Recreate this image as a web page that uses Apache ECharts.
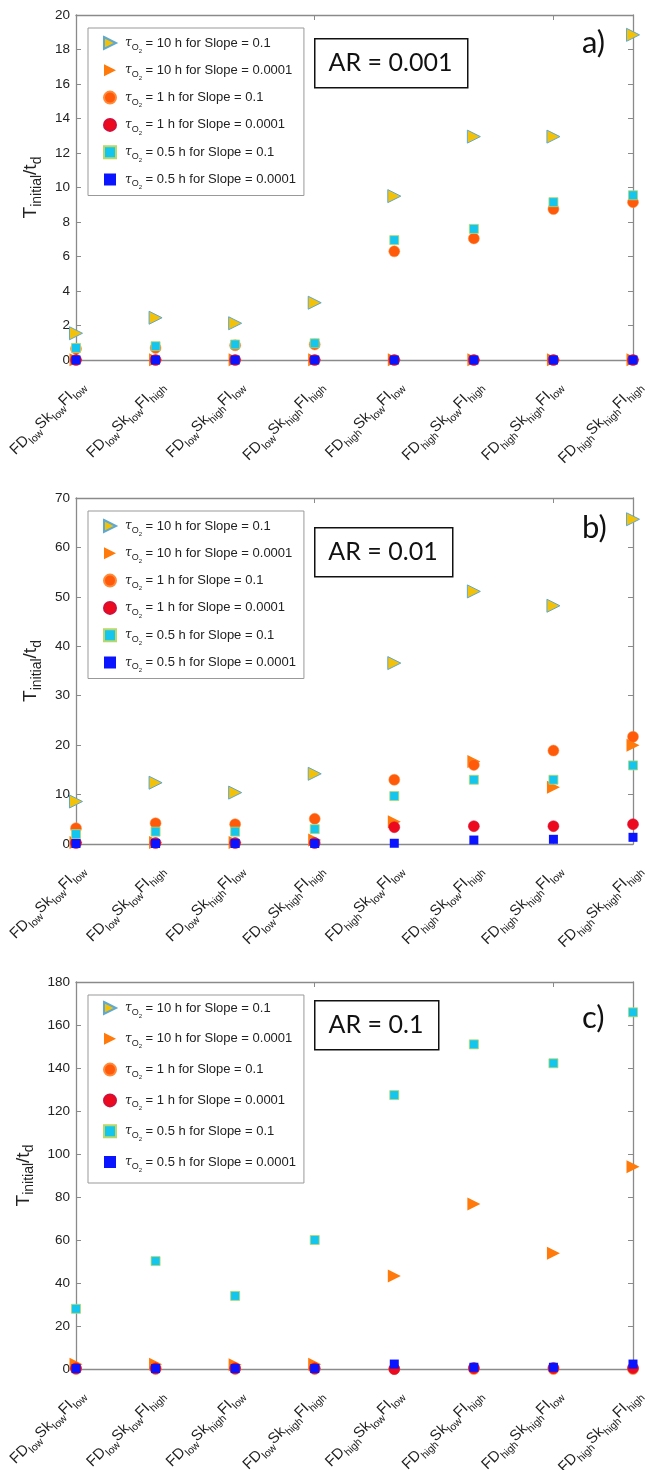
<!DOCTYPE html>
<html>
<head>
<meta charset="utf-8">
<title>T initial / t d</title>
<script src="https://cdn.jsdelivr.net/npm/echarts@6/dist/echarts.min.js"></script>
<style>
html, body { margin: 0; padding: 0; background: #fff; }
#chart { width: 645px; height: 1470px; }
</style>
</head>
<body>
<div id="chart"></div>
<script>
// categories on the x axis (the part after _ is a subscript)
const categories = [
  'FD_low Sk_low FI_low', 'FD_low Sk_low FI_high', 'FD_low Sk_high FI_low', 'FD_low Sk_high FI_high',
  'FD_high Sk_low FI_low', 'FD_high Sk_low FI_high', 'FD_high Sk_high FI_low', 'FD_high Sk_high FI_high'
]
const seriesNames = [
  '10 h for Slope = 0.1', '10 h for Slope = 0.0001', '1 h for Slope = 0.1',
  '1 h for Slope = 0.0001', '0.5 h for Slope = 0.1', '0.5 h for Slope = 0.0001'
]

// a) AR = 0.001
const aTri10Slope1 = [1.55, 2.45, 2.13, 3.32, 9.5, 12.95, 12.95, 18.85]
const aTri10Slope4 = [0.02, 0.02, 0.02, 0.02, 0.02, 0.02, 0.02, 0.02]
const aCirc1Slope1 = [0.65, 0.7, 0.85, 0.9, 6.3, 7.05, 8.75, 9.15]
const aCirc1Slope4 = [0, 0, 0, 0, 0, 0, 0, 0]
const aSq05Slope1 = [0.7, 0.8, 0.9, 0.97, 6.95, 7.6, 9.15, 9.55]
const aSq05Slope4 = [0, 0, 0, 0, 0, 0, 0, 0]

// b) AR = 0.01
const bTri10Slope1 = [8.6, 12.4, 10.4, 14.2, 36.6, 51.1, 48.2, 65.7]
const bTri10Slope4 = [0.3, 0.3, 0.3, 0.8, 4.5, 16.7, 11.5, 20.0]
const bCirc1Slope1 = [3.2, 4.2, 4.0, 5.1, 13.0, 16.0, 18.9, 21.7]
const bCirc1Slope4 = [0.2, 0.2, 0.2, 0.2, 3.4, 3.6, 3.6, 4.0]
const bSq05Slope1 = [2.0, 2.5, 2.5, 3.0, 9.7, 13.0, 13.0, 15.9]
const bSq05Slope4 = [0.1, 0.1, 0.1, 0.1, 0.15, 0.8, 0.95, 1.35]

// c) AR = 0.1
const cTri10Slope1 = [null, null, null, null, null, null, null, null]
const cTri10Slope4 = [2.2, 2.2, 2.0, 2.2, 43.3, 76.7, 53.8, 94.1]
const cCirc1Slope1 = [0, 0, 0, 0, 0, 0, 0, 0]
const cCirc1Slope4 = [0.3, 0.3, 0.3, 0.3, 0, 0.5, 0.5, 0.5]
const cSq05Slope1 = [28, 50.2, 34, 60, 127.4, 151, 142.2, 165.9]
const cSq05Slope4 = [0.2, 0.2, 0.2, 0.2, 2.3, 0.8, 0.8, 2.3]

// y axis ticks
const yMax = [20, 70, 180]
const yStep = [2, 10, 20]
const arLabels = ['AR = 0.001', 'AR = 0.01', 'AR = 0.1']
const panelLetters = ['a)', 'b)', 'c)']

const panelData = [
  [aTri10Slope1, aTri10Slope4, aCirc1Slope1, aCirc1Slope4, aSq05Slope1, aSq05Slope4],
  [bTri10Slope1, bTri10Slope4, bCirc1Slope1, bCirc1Slope4, bSq05Slope1, bSq05Slope4],
  [cTri10Slope1, cTri10Slope4, cCirc1Slope1, cCirc1Slope4, cSq05Slope1, cSq05Slope4]
]

// layout per panel
const layout = [
  { top: 15, height: 345, legendTop: 28, legendGap: 5.3, legendPad: [4, 8, 5, 15], boxY: 38, boxW: 153, letterY: 43 },
  { top: 498, height: 346, legendTop: 511, legendGap: 5.3, legendPad: [4, 8, 5, 15], boxY: 527, boxW: 138, letterY: 528 },
  { top: 982, height: 387, legendTop: 995, legendGap: 8.8, legendPad: [2, 8, 10, 15], boxY: 1000, boxW: 124, letterY: 1018 }
]

const triRight = 'path://M0,0L10,5L0,10Z'
const markers = [
  { symbol: triRight, size: 13, color: '#F3C108', border: '#5fa8cf', bw: 1 },
  { symbol: triRight, size: 13, color: '#FF7A0A', border: '#FF7A0A', bw: 0 },
  { symbol: 'circle', size: 11, color: '#FF5A0A', border: '#ff8a3a', bw: 0.5 },
  { symbol: 'circle', size: 11, color: '#EE0A1E', border: '#d0103a', bw: 0.5 },
  { symbol: 'rect', size: 9, color: '#14C6EE', border: '#b8d86a', bw: 0.8 },
  { symbol: 'rect', size: 9, color: '#0A14FF', border: '#0A14FF', bw: 0 }
]

const axisGray = '#8a8a8a'
const tickFont = 'Liberation Sans, Arial, sans-serif'

function catLabel(v) {
  return v.split(' ').map(p => {
    const [m, s] = p.split('_')
    return '{n|' + m + '}{s|' + s + '}'
  }).join('')
}

let grid = [], xAxis = [], yAxis = [], legend = [], series = [], graphic = []

layout.forEach((L, i) => {
  grid.push({ left: 76, right: 12, top: L.top, height: L.height, outerBoundsMode: 'none', containLabel: false })

  // bottom axis with labels
  xAxis.push({
    type: 'category', gridIndex: i, data: categories, boundaryGap: false,
    axisLine: { lineStyle: { color: axisGray, width: 1.3 } },
    axisTick: { inside: true, length: 5, lineStyle: { color: axisGray } },
    axisLabel: {
      rotate: 45, margin: 17, color: '#222', formatter: catLabel, verticalAlign: 'top', align: 'right',
      rich: {
        n: { fontSize: 15, fontFamily: tickFont, color: '#222', lineHeight: 17 },
        s: { fontSize: 10.5, fontFamily: tickFont, color: '#222', lineHeight: 1, padding: [12, 0, 0, 0] }
      }
    },
    splitLine: { show: false }
  })
  // top axis, ticks only
  xAxis.push({
    type: 'category', gridIndex: i, data: categories, boundaryGap: false, position: 'top',
    axisLine: { onZero: false, lineStyle: { color: axisGray, width: 1.3 } },
    axisTick: { inside: true, length: 5, lineStyle: { color: axisGray } },
    axisLabel: { show: false },
    splitLine: { show: false }
  })

  yAxis.push({
    type: 'value', gridIndex: i, min: 0, max: yMax[i], interval: yStep[i],
    name: '{T|T}{sub|initial}{n|/t}{sub|d}',
    nameLocation: 'middle', nameGap: 30, nameRotate: 90,
    nameTextStyle: {
      rich: {
        T: { fontSize: 19, fontFamily: tickFont, color: '#222', lineHeight: 20 },
        n: { fontSize: 19, fontFamily: tickFont, color: '#222', lineHeight: 20 },
        sub: { fontSize: 14, fontFamily: tickFont, color: '#222', lineHeight: 1, padding: [12, 0, 0, 0] }
      }
    },
    axisLine: { show: true, lineStyle: { color: axisGray, width: 1.3 } },
    axisTick: { show: true, inside: true, length: 5, lineStyle: { color: axisGray } },
    axisLabel: { fontSize: 13.5, fontFamily: tickFont, color: '#222', margin: 6 },
    splitLine: { show: false }
  })
  yAxis.push({
    type: 'value', gridIndex: i, min: 0, max: yMax[i], interval: yStep[i], position: 'right',
    axisLine: { show: true, lineStyle: { color: axisGray, width: 1.3 } },
    axisTick: { show: true, inside: true, length: 5, lineStyle: { color: axisGray } },
    axisLabel: { show: false },
    splitLine: { show: false }
  })

  legend.push({
    data: seriesNames, orient: 'vertical', left: 88, top: L.legendTop,
    padding: L.legendPad, itemGap: L.legendGap, itemWidth: 12, itemHeight: 12,
    borderColor: '#999', borderWidth: 1, backgroundColor: '#fff',
    selectedMode: false,
    formatter: name => '{tau|τ}{o|O}{two|2}{t| = ' + name + '}',
    textStyle: {
      color: '#222',
      rich: {
        tau: { fontSize: 12, fontStyle: 'italic', fontFamily: 'DejaVu Serif', color: '#222', lineHeight: 16, padding: [0, 0, 0, 4] },
        o: { fontSize: 9, fontFamily: tickFont, color: '#222', lineHeight: 1, padding: [9, 0, 0, 0] },
        two: { fontSize: 6, fontFamily: tickFont, color: '#222', lineHeight: 1, padding: [16, 0, 0, 0] },
        t: { fontSize: 13, fontFamily: tickFont, color: '#222', lineHeight: 16 }
      }
    }
  })

  panelData[i].forEach((vals, k) => {
    const m = markers[k]
    series.push({
      name: seriesNames[k], type: 'scatter', xAxisIndex: 2 * i, yAxisIndex: 2 * i,
      data: vals, symbol: m.symbol, symbolSize: m.size,
      itemStyle: { color: m.color, borderColor: m.border, borderWidth: m.bw, opacity: 1 },
      emphasis: { disabled: true }, z: 2 + k, clip: false
    })
  })

  graphic.push({
    type: 'rect', left: 314, top: L.boxY,
    shape: { width: L.boxW, height: 49 },
    style: { fill: '#fff', stroke: '#111', lineWidth: 1.5 }, z: 100
  })
  graphic.push({
    type: 'text', x: 314 + L.boxW / 2, y: L.boxY + 25,
    style: { text: arLabels[i], fontSize: 25, fontFamily: 'Lato', fill: '#111', align: 'center', verticalAlign: 'middle' },
    z: 101
  })
  graphic.push({
    type: 'text', x: 582, y: L.letterY,
    style: { text: panelLetters[i], fontSize: 31, fontFamily: 'Lato', fill: '#111', align: 'left', verticalAlign: 'middle' },
    z: 101
  })
})

const myChart = echarts.init(document.getElementById('chart'), null, { renderer: 'canvas' })
myChart.setOption({
  animation: false,
  backgroundColor: '#fff',
  grid: grid,
  xAxis: xAxis,
  yAxis: yAxis,
  legend: legend,
  series: series,
  graphic: graphic
})
</script>
</body>
</html>
